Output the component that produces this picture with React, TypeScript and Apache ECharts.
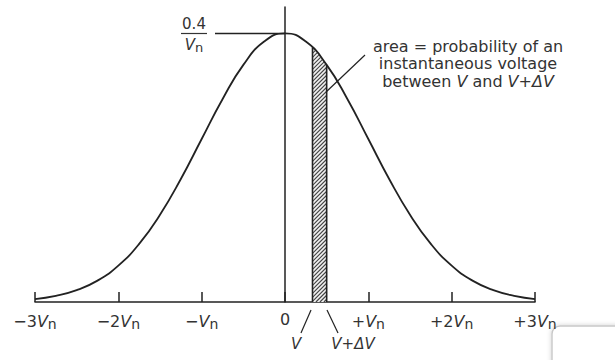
import React, { useEffect, useRef } from "react";
import * as echarts from "echarts";

// Curve (probability density, in units of 1/Vn)
const xValues = [-3, -2.75, -2.5, -2.25, -2, -1.75, -1.5, -1.25, -1, -0.75, -0.5, -0.25, 0, 0.25, 0.5, 0.75, 1, 1.25, 1.5, 1.75, 2, 2.25, 2.5, 2.75, 3];
const density = [0.0044, 0.0091, 0.0175, 0.0317, 0.054, 0.0863, 0.1295, 0.1826, 0.242, 0.3011, 0.3521, 0.3867, 0.3989, 0.3867, 0.3521, 0.3011, 0.242, 0.1826, 0.1295, 0.0863, 0.054, 0.0317, 0.0175, 0.0091, 0.0044];
// Hatched strip between V and V+ΔV
const stripBounds = [0.33, 0.5];
const stripHeights = [0.378, 0.352];
// Tick label prefixes (followed by italic V with subscript n, except at 0)
const tickValues = [-3, -2, -1, 0, 1, 2, 3];
const tickPrefixes = ["−3", "−2", "−", "0", "+", "+2", "+3"];
const peakValue = "0.4";
const annotationLines = ["area = probability of an", "instantaneous voltage", "between {i|V} and {i|V}+{i|ΔV}"];

const FONT = "DejaVu Sans";
const TEXT = "#333";
const LINE = "#222";

export default function App() {
  const ref = useRef<HTMLDivElement>(null);
  useEffect(() => {
    document.body.style.margin = "0";
    const chart = echarts.init(ref.current!, null, { renderer: "svg" });
    const richLabel = {
      v: { fontStyle: "italic", fontSize: 16, fontFamily: FONT, color: TEXT },
      n: { fontSize: 14, fontFamily: FONT, color: TEXT, padding: [6, 0, 0, 0] },
    };
    chart.setOption({
      animation: false,
      grid: { left: 35, right: 80, top: 7, bottom: 58, containLabel: false },
      xAxis: {
        type: "value",
        min: -3,
        max: 3,
        interval: 1,
        splitLine: { show: false },
        axisLine: { lineStyle: { color: LINE, width: 1.6 } },
        axisTick: { inside: true, length: 10, lineStyle: { color: LINE, width: 1.5 } },
        axisLabel: {
          margin: 9,
          fontSize: 16,
          fontFamily: FONT,
          color: TEXT,
          formatter: (v: number) => {
            const i = tickValues.indexOf(Math.round(v));
            if (i < 0) return "";
            const p = tickPrefixes[i];
            return v === 0 ? p : p + "{v|V}{n|n}";
          },
          rich: richLabel,
        },
      },
      yAxis: {
        type: "value",
        min: 0,
        max: 0.438,
        splitLine: { show: false },
        axisTick: { show: false },
        axisLabel: { show: false },
        axisLine: { show: true, onZero: true, lineStyle: { color: LINE, width: 1.5 } },
      },
      series: [
        {
          type: "custom",
          z: 3,
          renderItem: (params: any, api: any) => {
            const [x0, yt0] = api.coord([api.value(0), api.value(2)]);
            const [x1, yt1] = api.coord([api.value(1), api.value(3)]);
            const yb = api.coord([0, 0])[1];
            const w = x1 - x0;
            const s = (yt1 - yt0) / w;
            const children: any[] = [
              {
                type: "polygon",
                shape: { points: [[x0, yb], [x0, yt0], [x1, yt1], [x1, yb]] },
                style: { fill: "#f2f2f2", stroke: "none" },
              },
            ];
            for (let c = yt0 + 2; c < yb + w; c += 4) {
              const t0 = Math.max(0, c - yb);
              const t1 = Math.min(w, (c - yt0) / (1 + s));
              if (t1 > t0) {
                children.push({
                  type: "line",
                  shape: { x1: x0 + t0, y1: c - t0, x2: x0 + t1, y2: c - t1 },
                  style: { stroke: "#444", lineWidth: 1.1 },
                });
              }
            }
            children.push({ type: "line", shape: { x1: x0, y1: yb, x2: x0, y2: yt0 }, style: { stroke: LINE, lineWidth: 1.6 } });
            children.push({ type: "line", shape: { x1: x1, y1: yb, x2: x1, y2: yt1 }, style: { stroke: LINE, lineWidth: 1.6 } });
            return { type: "group", children };
          },
          encode: { x: [0, 1], y: [2, 3] },
          data: [[stripBounds[0], stripBounds[1], stripHeights[0], stripHeights[1]]],
        },
        {
          type: "line",
          z: 4,
          smooth: true,
          symbol: "none",
          lineStyle: { color: LINE, width: 1.8 },
          data: xValues.map((x, i) => [x, density[i]]),
        },
      ],
      graphic: [
        { type: "rect", z: -10, shape: { x: 552, y: 326, width: 100, height: 60, r: 8 }, style: { fill: "#fff", stroke: "#c8c8c8", lineWidth: 1.4, shadowBlur: 5, shadowColor: "rgba(0,0,0,0.18)" } },
        { type: "text", x: 194, y: 24, style: { text: peakValue, fontSize: 15, fontFamily: FONT, fill: TEXT, align: "center", verticalAlign: "middle" } },
        { type: "line", shape: { x1: 181, y1: 33.5, x2: 207, y2: 33.5 }, style: { stroke: TEXT, lineWidth: 1.2 } },
        {
          type: "text", x: 194, y: 45,
          style: {
            text: "{v|V}{n|n}", align: "center", verticalAlign: "middle",
            rich: { v: { fontStyle: "italic", fontSize: 15, fontFamily: FONT, fill: TEXT }, n: { fontSize: 13, fontFamily: FONT, fill: TEXT, padding: [5, 0, 0, 0] } },
          },
        },
        { type: "line", shape: { x1: 215, y1: 33.5, x2: 285, y2: 33.5 }, style: { stroke: LINE, lineWidth: 1.4 } },
        ...annotationLines.map((t, i) => ({
          type: "text", x: 468, y: 46 + i * 17.6,
          style: {
            text: t, fontSize: 16, fontFamily: FONT, fill: TEXT, align: "center", verticalAlign: "middle",
            rich: { i: { fontStyle: "italic", fontSize: 16, fontFamily: FONT, fill: TEXT } },
          },
        })),
        { type: "line", shape: { x1: 325, y1: 93, x2: 365, y2: 55 }, style: { stroke: LINE, lineWidth: 1.2 } },
        { type: "line", shape: { x1: 311, y1: 310, x2: 301, y2: 333 }, style: { stroke: LINE, lineWidth: 1.2 } },
        { type: "line", shape: { x1: 327, y1: 310, x2: 338, y2: 333 }, style: { stroke: LINE, lineWidth: 1.2 } },
        { type: "text", x: 296, y: 344, style: { text: "V", fontSize: 15, fontStyle: "italic", fontFamily: FONT, fill: TEXT, align: "center", verticalAlign: "middle" } },
        {
          type: "text", x: 353, y: 344,
          style: {
            text: "{i|V}+{i|ΔV}", fontSize: 15, fontFamily: FONT, fill: TEXT, align: "center", verticalAlign: "middle",
            rich: { i: { fontStyle: "italic", fontSize: 15, fontFamily: FONT, fill: TEXT } },
          },
        },
      ],
    });
    return () => chart.dispose();
  }, []);
  return <div ref={ref} style={{ width: 615, height: 360 }} />;
}
